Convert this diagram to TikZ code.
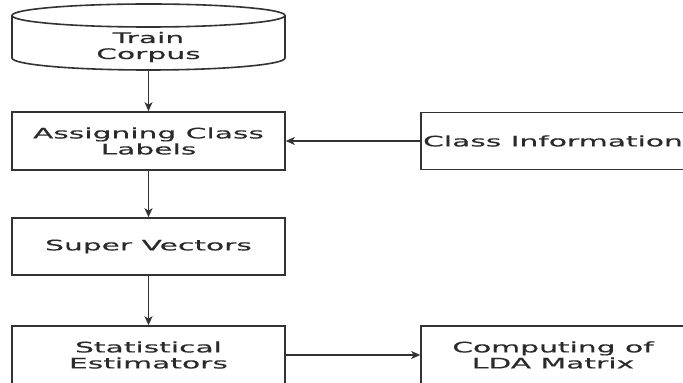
\documentclass[tikz,border=0pt]{standalone}
\usepackage{fontspec}
\setmainfont{DejaVu Sans}[FakeStretch=2.05, FakeBold=0.3]
\usetikzlibrary{arrows.meta}
\definecolor{linec}{HTML}{333333}
\definecolor{textc}{HTML}{2A2A2A}
\tikzset{
  box/.style={draw=linec, line width=1.6pt, minimum width=273pt, minimum height=58pt,
    inner sep=0pt, align=center, text=textc, font=\fontsize{14.5}{16}\selectfont},
  plain/.style={inner sep=0pt, align=center, text=textc, font=\fontsize{14.5}{16}\selectfont},
  flow/.style={draw=linec, line width=1.8pt, -{Stealth[length=9pt,width=8pt,inset=2.5pt]}}
}
\begin{document}
\begin{tikzpicture}[x=1pt,y=1pt]
\useasboundingbox[fill=white] (0,0) rectangle (683,383);
% cylinder outline
\draw[draw=linec, line width=1.6pt] (148.5,367.5) ellipse [x radius=136.5pt, y radius=11.5pt];
\draw[draw=linec, line width=1.6pt] (12,367.5) -- (12,325)
  arc[start angle=180, end angle=360, x radius=136.5pt, y radius=12pt] -- (285,367.5);
\node[plain, minimum width=273pt, minimum height=46pt] (corpus) at (148.5,336) {Train\\Corpus};
\node[box] (assign) at (148.5,242) {Assigning Class\\Labels};
\node[box, minimum width=264pt, minimum height=57pt] (info) at (553,242) {Class Information};
\node[box, minimum height=57pt] (super) at (148.5,136.5) {Super Vectors};
\node[box] (stat) at (148.5,28) {Statistical\\Estimators};
\node[box, minimum width=264pt] (lda) at (553,28) {Computing of\\LDA Matrix};
\draw[flow] (corpus.south) -- (assign.north);
\draw[flow] (info.west) -- (assign.east);
\draw[flow] (assign.south) -- (super.north);
\draw[flow] (super.south) -- (stat.north);
\draw[flow] (stat.east) -- (lda.west);
\end{tikzpicture}
\end{document}
